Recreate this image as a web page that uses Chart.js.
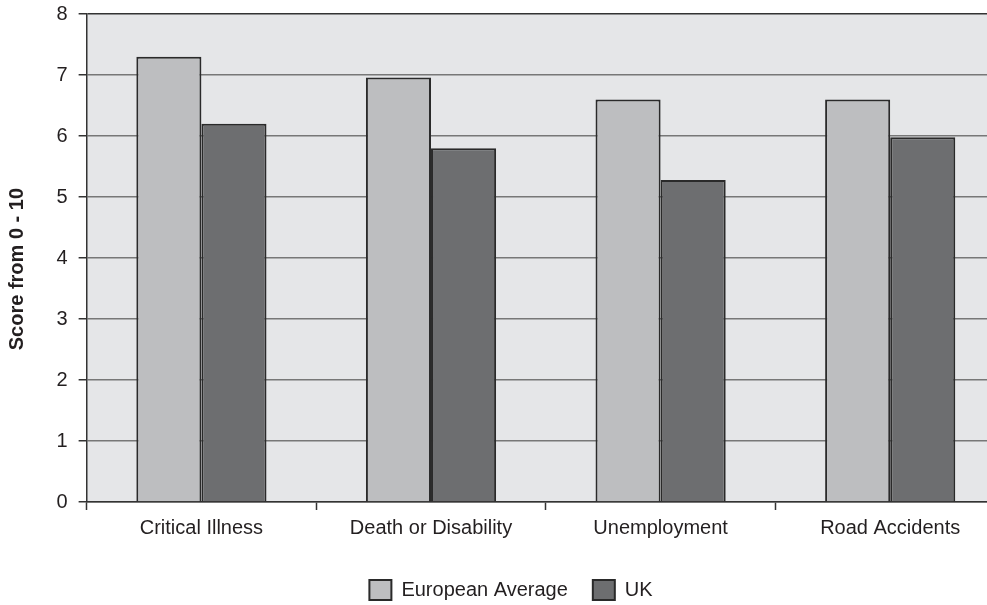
<!DOCTYPE html>
<html>
<head>
<meta charset="utf-8">
<script src="https://cdn.jsdelivr.net/npm/chart.js@4/dist/chart.umd.min.js"></script>
<style>
  html, body { margin: 0; padding: 0; background: #ffffff; overflow: hidden; }
  #wrap { position: relative; top: -9px; width: 1022px; height: 619px; }
</style>
</head>
<body>
<div id="wrap"><canvas id="chart"></canvas></div>
<script>
// Risk perception scores, European average vs UK
const categories = ['Critical Illness', 'Death or Disability', 'Unemployment', 'Road Accidents'];
const europeanAverage = [7.30, 6.96, 6.60, 6.60];
const ukScores = [6.20, 5.80, 5.28, 5.98];
const yTicks = [0, 1, 2, 3, 4, 5, 6, 7, 8];

const FONT = '"Liberation Sans", Arial, Helvetica, sans-serif';
const TEXT = '#231f20';
const DARK = '#333333';

// fills the plotting area with a light grey panel
const panelBackground = {
  id: 'panelBackground',
  beforeDraw(chart) {
    const { ctx, chartArea: a } = chart;
    ctx.save();
    ctx.fillStyle = '#e5e6e8';
    ctx.fillRect(a.left, a.top, a.right - a.left, a.bottom - a.top);
    ctx.restore();
  }
};

new Chart(document.getElementById('chart'), {
  type: 'bar',
  data: {
    labels: categories,
    datasets: [
      {
        label: 'European Average',
        data: europeanAverage,
        backgroundColor: '#bdbec0',
        borderColor: '#2a2a2a',
        borderWidth: 2
      },
      {
        label: 'UK',
        data: ukScores,
        backgroundColor: '#6d6e70',
        borderColor: '#2a2a2a',
        borderWidth: 2
      }
    ]
  },
  options: {
    responsive: true,
    maintainAspectRatio: false,
    animation: false,
    devicePixelRatio: 1,
    layout: { padding: { top: 5, left: 0, right: 0, bottom: 0 } },
    datasets: { bar: { categoryPercentage: 0.567, barPercentage: 1.0 } },
    plugins: {
      legend: {
        position: 'bottom',
        labels: {
          font: { family: FONT, size: 20 },
          color: TEXT,
          boxWidth: 22,
          boxHeight: 20,
          padding: 25,
          useBorderRadius: false
        }
      },
      tooltip: { enabled: false }
    },
    scales: {
      x: {
        grid: {
          display: true,
          drawOnChartArea: false,
          drawTicks: true,
          tickLength: 8,
          tickColor: DARK,
          tickWidth: 1.5,
          offset: true
        },
        border: { display: true, color: DARK, width: 1.5 },
        ticks: {
          font: { family: FONT, size: 20 },
          color: TEXT,
          padding: 6,
          maxRotation: 0
        },
        // extra room between the category labels and the legend
        afterFit(scale) { scale.height += 9; }
      },
      y: {
        min: 0,
        max: 8,
        afterBuildTicks(scale) {
          scale.ticks = yTicks.map(v => ({ value: v }));
        },
        grid: {
          color: ctx => (ctx.tick && ctx.tick.value === 8 ? DARK : '#777777'),
          lineWidth: 1.5,
          drawTicks: true,
          tickLength: 8,
          tickColor: DARK,
          tickWidth: 1.5
        },
        border: { display: true, color: DARK, width: 1.5 },
        ticks: {
          font: { family: FONT, size: 20 },
          color: TEXT,
          padding: 11
        },
        title: {
          display: true,
          text: 'Score from 0 - 10    ',
          font: { family: FONT, size: 20, weight: 'bold' },
          color: TEXT,
          padding: { top: 5, bottom: 16.5 }
        }
      },
      yRight: {
        position: 'right',
        display: true,
        grid: { display: false },
        border: { display: false },
        ticks: { display: false },
        afterFit(scale) { scale.width = 17; }
      }
    }
  },
  plugins: [panelBackground]
});
</script>
</body>
</html>
